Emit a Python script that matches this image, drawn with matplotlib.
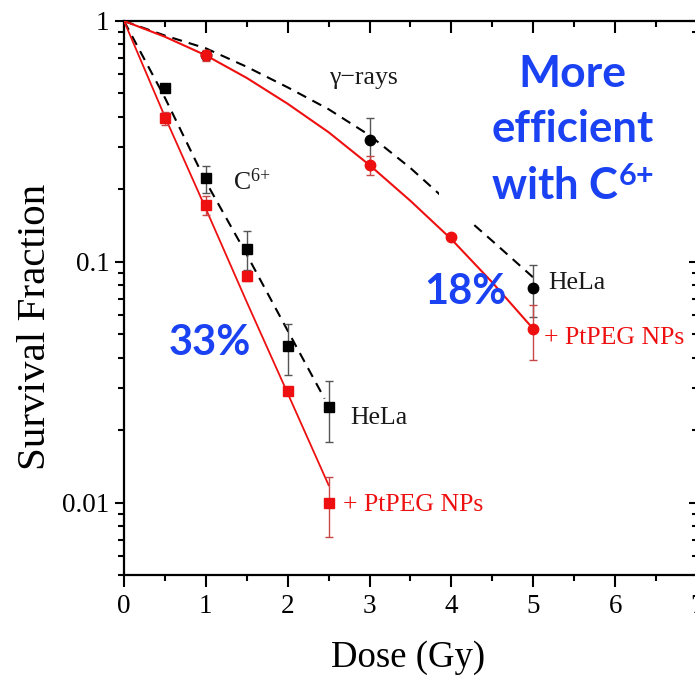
import matplotlib
matplotlib.use("Agg")
import matplotlib.pyplot as plt
from matplotlib.patches import Rectangle
from matplotlib.ticker import FixedLocator, LogLocator, NullFormatter, FixedFormatter

plt.rcParams['font.family'] = ['Liberation Serif', 'DejaVu Serif']
plt.rcParams['mathtext.fontset'] = 'custom'
plt.rcParams['mathtext.rm'] = 'Liberation Serif'
plt.rcParams['mathtext.it'] = 'Liberation Serif:italic'
plt.rcParams['mathtext.bf'] = 'Lato:bold'

# ---- measured survival fractions (HeLa) ----
gamma_dose = [1, 3, 5]
gamma_sf = [0.72, 0.32, 0.078]
gamma_err = [0.03, 0.075, 0.019]

gamma_np_dose = [1, 3, 4, 5]
gamma_np_sf = [0.72, 0.252, 0.127, 0.0526]
gamma_np_err = [0.04, 0.023, 0.004, 0.0135]

carbon_dose = [0.5, 1, 1.5, 2, 2.5]
carbon_sf = [0.526, 0.222, 0.113, 0.0445, 0.0249]
carbon_err = [0.02, 0.029, 0.021, 0.0105, 0.007]

carbon_np_dose = [0.5, 1, 1.5, 2, 2.5]
carbon_np_sf = [0.395, 0.172, 0.0875, 0.029, 0.0100]
carbon_np_err = [0.025, 0.015, 0.004, 0.001, 0.0028]

# ---- fitted survival curves ----
gamma_fit_dose = [0, 0.5, 1, 1.5, 2, 2.5, 3, 3.5, 4, 4.5, 5]
gamma_fit_sf = [1, 0.87, 0.77, 0.645, 0.53, 0.43, 0.335, 0.245, 0.172, 0.122, 0.086]

gamma_np_fit_dose = [0, 0.5, 1, 1.5, 2, 2.5, 3, 3.5, 4, 4.5, 5]
gamma_np_fit_sf = [1, 0.86, 0.72, 0.58, 0.453, 0.345, 0.252, 0.179, 0.124, 0.082, 0.0526]

carbon_fit_dose = [0, 0.5, 1, 1.5, 2, 2.45]
carbon_fit_sf = [1, 0.48, 0.215, 0.107, 0.0517, 0.027]

carbon_np_fit_dose = [0, 0.5, 1, 1.5, 2, 2.5]
carbon_np_fit_sf = [1, 0.40, 0.166, 0.068, 0.0284, 0.0118]

x_ticks = [0, 1, 2, 3, 4, 5, 6, 7]
x_minor = [0.5, 1.5, 2.5, 3.5, 4.5, 5.5, 6.5]
y_ticks = [0.01, 0.1, 1]
y_tick_labels = ['0.01', '0.1', '1']

RED = '#ee1010'
RED_ERR = '#c84848'
BLACK_ERR = '#555555'
BLUE = '#1a42f2'

W, H = 695, 690
fig = plt.figure(figsize=(W / 100, H / 100), dpi=100)
ax = fig.add_axes([124 / W, 1 - 575 / H, (697 - 124) / W, (575 - 21) / H])
ax.set_yscale('log')
ax.set_xlim(0, 7)
ax.set_ylim(0.005, 1)

dash = (0, (4.8, 3.4))
ax.plot(gamma_fit_dose, gamma_fit_sf, color='black', lw=1.5, ls=dash, zorder=2)
ax.plot(carbon_fit_dose, carbon_fit_sf, color='black', lw=1.5, ls=dash, zorder=2)
ax.plot(gamma_np_fit_dose, gamma_np_fit_sf, color=RED, lw=1.5, zorder=3)
ax.plot(carbon_np_fit_dose, carbon_np_fit_sf, color=RED, lw=1.3, zorder=3)

ax.errorbar(gamma_dose, gamma_sf, yerr=gamma_err, fmt='o', color='black', ms=7.5,
            ecolor=BLACK_ERR, elinewidth=1, capsize=3, capthick=1, zorder=4)
ax.errorbar(carbon_dose, carbon_sf, yerr=carbon_err, fmt='s', color='black', ms=6.5,
            ecolor=BLACK_ERR, elinewidth=1, capsize=3, capthick=1, zorder=4)
ax.errorbar(gamma_np_dose, gamma_np_sf, yerr=gamma_np_err, fmt='o', color=RED, ms=7.5,
            ecolor=RED_ERR, elinewidth=1, capsize=3, capthick=1, zorder=5)
ax.errorbar(carbon_np_dose, carbon_np_sf, yerr=carbon_np_err, fmt='s', color=RED, ms=6.5,
            ecolor=RED_ERR, elinewidth=1, capsize=3, capthick=1, zorder=5)

# axes, ticks
for s in ('top', 'right'):
    ax.spines[s].set_visible(False)
for s in ('left', 'bottom'):
    ax.spines[s].set_linewidth(1.6)

ax.xaxis.set_major_locator(FixedLocator(x_ticks))
ax.xaxis.set_minor_locator(FixedLocator(x_minor))
ax.yaxis.set_major_locator(FixedLocator(y_ticks))
ax.yaxis.set_major_formatter(FixedFormatter(y_tick_labels))
ax.yaxis.set_minor_locator(LogLocator(base=10, subs=range(2, 10), numticks=20))
ax.yaxis.set_minor_formatter(NullFormatter())
ax.tick_params(axis='x', which='major', direction='out', length=8.5, width=1.5, labelsize=19.5, pad=5)
ax.tick_params(axis='x', which='minor', direction='out', length=4, width=1.5)
ax.tick_params(axis='y', which='major', direction='out', length=6.5, width=1.5, labelsize=19.5, pad=4)
ax.tick_params(axis='y', which='minor', direction='out', length=4, width=1.5)

secx = ax.secondary_xaxis('top')
secx.xaxis.set_major_locator(FixedLocator(x_ticks))
secx.xaxis.set_minor_locator(FixedLocator(x_minor))
secx.tick_params(which='major', direction='in', length=8.5, width=1.5, labeltop=False)
secx.tick_params(which='minor', direction='in', length=4.3, width=1.5)
secx.spines['top'].set_linewidth(1.6)

secy = ax.secondary_yaxis('right')
secy.yaxis.set_major_locator(FixedLocator(y_ticks))
secy.yaxis.set_minor_locator(LogLocator(base=10, subs=range(2, 10), numticks=20))
secy.yaxis.set_minor_formatter(NullFormatter())
secy.tick_params(which='major', direction='in', length=6, width=1.5, labelright=False)
secy.tick_params(which='minor', direction='in', length=3.6, width=1.5)
secy.spines['right'].set_linewidth(1.6)

ax.set_xlabel('Dose (Gy)', fontsize=26.5)
ax.set_ylabel('Survival Fraction', fontsize=29.5)
ax.xaxis.set_label_coords(0.495, -0.118)
ax.yaxis.set_label_coords(-0.122, 0.448)

# curve labels
lab = dict(fontsize=18.5, color='#1a1a1a', va='baseline')
ax.text(2.93, 0.548, 'γ\u2212rays', ha='center', **lab)
ax.text(1.333, 0.199, 'C$^{6{+}}$', ha='left', **lab)
ax.text(2.763, 0.0211, 'HeLa', ha='left', **lab)
ax.text(5.183, 0.0771, 'HeLa', ha='left', **lab)
ax.text(2.677, 0.00918, '+ PtPEG NPs', ha='left', fontsize=18.5, color=RED, va='baseline')
ax.text(5.126, 0.0457, '+ PtPEG NPs', ha='left', fontsize=18.5, color=RED, va='baseline')

# backing box for the headline annotation
ax.add_patch(Rectangle((439 / W, 1 - 224 / H), (700 - 439) / W, (224 - 34) / H,
                       transform=fig.transFigure, facecolor='white', edgecolor='none',
                       clip_on=False, zorder=10))

big = dict(fontfamily='Lato', fontweight='bold', color=BLUE, ha='center',
           va='baseline', zorder=11)
ax.text(5.477, 0.532, 'More', fontsize=32, **big)
ax.text(5.477, 0.3156, 'efficient', fontsize=31.5, **big)
ax.text(5.477, 0.1809, r'with C$^{\mathbf{6{+}}}$', fontsize=31.5, **big)
ax.text(4.169, 0.067, '18%', fontsize=30, **big)
ax.text(1.051, 0.0411, '33%', fontsize=30, **big)

fig.savefig('out.png', dpi=100)
